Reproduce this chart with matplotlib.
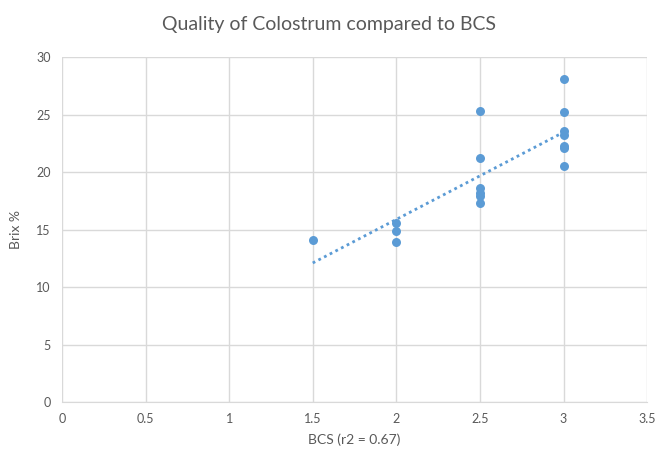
import numpy as np
import matplotlib.pyplot as plt

plt.rcParams['font.family'] = ['Lato', 'DejaVu Sans']

# BCS score vs Brix % readings
bcs = [1.5,
       2, 2, 2,
       2.5, 2.5, 2.5, 2.5, 2.5, 2.5,
       3, 3, 3, 3, 3, 3, 3]
brix = [14.1,
        15.6, 14.9, 13.9,
        25.3, 21.2, 18.6, 18.2, 17.9, 17.3,
        28.1, 25.2, 23.6, 23.2, 22.3, 22.1, 20.5]

x_ticks = [0, 0.5, 1, 1.5, 2, 2.5, 3, 3.5]
y_ticks = [0, 5, 10, 15, 20, 25, 30]

blue = '#5B9BD5'
grey = '#595959'

fig = plt.figure(figsize=(6.59, 4.55), dpi=100)
ax = fig.add_axes([0.094, 0.1165, 0.888, 0.758])

ax.scatter(bcs, brix, s=42, color=blue, zorder=3, linewidths=0)

# linear trendline
m, b = np.polyfit(bcs, brix, 1)
xs = np.array([min(bcs), max(bcs)])
ax.plot(xs, m * xs + b, color=blue, linestyle=(0, (1, 1.3)), linewidth=2, zorder=2)

ax.set_xlim(0, 3.5)
ax.set_ylim(0, 30)
ax.set_xticks(x_ticks)
ax.set_xticklabels([f'{t:g}' for t in x_ticks])
ax.set_yticks(y_ticks)
ax.grid(True, color='#D9D9D9', linewidth=1)
ax.set_axisbelow(True)
for s in ['top', 'right', 'left']:
    ax.spines[s].set_visible(False)
ax.spines['bottom'].set_color('#D9D9D9')
ax.tick_params(length=0, labelsize=9, colors=grey, pad=8)

ax.set_xlabel('BCS (r2 = 0.67)', fontsize=10, color=grey, labelpad=6)
ax.set_ylabel('Brix %', fontsize=10, color=grey, labelpad=10)
fig.suptitle('Quality of Colostrum compared to BCS', fontsize=14, color=grey, y=0.965)

fig.savefig('out.png', dpi=100)
